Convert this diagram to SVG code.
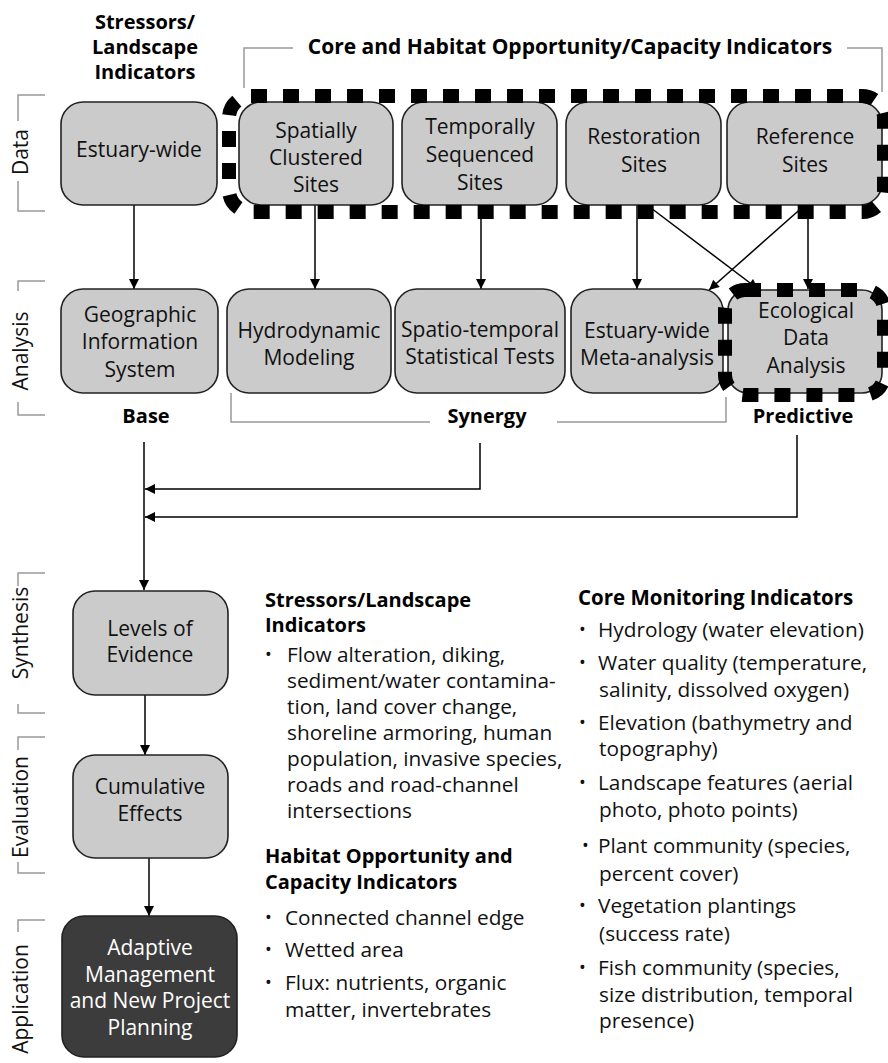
<svg xmlns="http://www.w3.org/2000/svg" width="888" height="1063" viewBox="0 0 888 1063">
<defs>
<marker id="ah" viewBox="0 0 10 10" refX="10" refY="5" markerWidth="11" markerHeight="10" markerUnits="userSpaceOnUse" orient="auto">
<path d="M0,0 L10,5 L0,10 z" fill="#000"/>
</marker>
<style>
.node{fill:#cbcbcb;stroke:#222;stroke-width:1.6}
.dark{fill:#3c3c3c;stroke:#222;stroke-width:1.6}
.t{font-family:"Open Sans","Liberation Sans",sans-serif;font-size:21px;fill:#111;text-anchor:middle}
.tw{font-family:"Open Sans","Liberation Sans",sans-serif;font-size:21px;fill:#ffffff;text-anchor:middle}
.b{font-family:"Open Sans","Liberation Sans",sans-serif;font-size:20px;font-weight:bold;fill:#000}
.bc{font-family:"Open Sans","Liberation Sans",sans-serif;font-size:20px;font-weight:bold;fill:#000;text-anchor:middle}
.l{font-family:"Open Sans","Liberation Sans",sans-serif;font-size:20.8px;fill:#111}
.bul{font-family:"Open Sans","Liberation Sans",sans-serif;font-size:18px;fill:#111}
.side{font-family:"Open Sans","Liberation Sans",sans-serif;font-size:21px;fill:#111;text-anchor:middle}
.gray{fill:none;stroke:#999;stroke-width:1.5}
.dash{fill:none;stroke:#000;stroke-width:14;stroke-dasharray:16 16}
.c{fill:none;stroke:#000;stroke-width:1.5}
</style>
</defs>

<g id="side-labels">
<path class="gray" d="M45,95 H18 V121 M18,181 V211 H45"/>
<text class="side" transform="translate(28,152) rotate(-90)">Data</text>
<path class="gray" d="M45,281 H18 V291 M18,402 V415 H45"/>
<text class="side" transform="translate(28,351) rotate(-90)">Analysis</text>
<path class="gray" d="M45,573 H18 V586 M18,704 V713 H45"/>
<text class="side" transform="translate(28,633) rotate(-90)">Synthesis</text>
<path class="gray" d="M45,737 H18 V750 M18,862 V873 H45"/>
<text class="side" transform="translate(28,807) rotate(-90)">Evaluation</text>
<path class="gray" d="M45,920 H18 V932"/>
<text class="side" transform="translate(28,999) rotate(-90)">Application</text>
</g>

<g id="headers">
<text class="bc" x="145" y="29">Stressors/</text>
<text class="bc" x="145" y="54">Landscape</text>
<text class="bc" x="145" y="79">Indicators</text>
<path class="gray" d="M293,48 H244 V88"/>
<path class="gray" d="M847,48 H882 V92"/>
<text class="bc" x="570" y="54" style="font-size:21px">Core and Habitat Opportunity/Capacity Indicators</text>
</g>

<g id="connectors">
<line class="c" x1="134" y1="205" x2="134" y2="289" marker-end="url(#ah)"/>
<line class="c" x1="315" y1="205" x2="315" y2="289" marker-end="url(#ah)"/>
<line class="c" x1="481" y1="205" x2="481" y2="289" marker-end="url(#ah)"/>
<line class="c" x1="637" y1="205" x2="637" y2="289" marker-end="url(#ah)"/>
<line class="c" x1="808" y1="205" x2="808" y2="289" marker-end="url(#ah)"/>
<line class="c" x1="647" y1="205" x2="758" y2="289" marker-end="url(#ah)"/>
<line class="c" x1="805" y1="205" x2="709" y2="290" marker-end="url(#ah)"/>
<line class="c" x1="144" y1="442" x2="144" y2="590" marker-end="url(#ah)"/>
<polyline class="c" points="480,443 480,489 145,489" marker-end="url(#ah)"/>
<polyline class="c" points="797,435 797,517 145,517" marker-end="url(#ah)"/>
<line class="c" x1="145" y1="695" x2="145" y2="755" marker-end="url(#ah)"/>
<line class="c" x1="149" y1="858" x2="149" y2="916" marker-end="url(#ah)"/>
</g>

<g id="n-estuary-wide">
<rect class="node" x="61" y="102" width="156" height="103" rx="22"/>
<text class="t" x="139" y="157">Estuary-wide</text>
</g>
<g id="n-spatially">
<rect class="node" x="239" y="102" width="154" height="103" rx="22"/>
<text class="t" x="316" y="138">Spatially</text>
<text class="t" x="316" y="165">Clustered</text>
<text class="t" x="316" y="192">Sites</text>
</g>
<g id="n-temporally">
<rect class="node" x="402" y="102" width="155" height="103" rx="22"/>
<text class="t" x="480" y="134">Temporally</text>
<text class="t" x="480" y="162">Sequenced</text>
<text class="t" x="480" y="190">Sites</text>
</g>
<g id="n-restoration">
<rect class="node" x="566" y="102" width="155" height="103" rx="22"/>
<text class="t" x="644" y="144">Restoration</text>
<text class="t" x="644" y="172">Sites</text>
</g>
<g id="n-reference">
<rect class="node" x="727" y="102" width="155" height="103" rx="22"/>
<text class="t" x="805" y="144">Reference</text>
<text class="t" x="805" y="172">Sites</text>
</g>
<g id="core-group">
<rect class="dash" x="229" y="96" width="655" height="116" rx="22"/>
</g>

<g id="n-gis">
<rect class="node" x="61" y="289" width="157" height="104" rx="22"/>
<text class="t" x="140" y="322">Geographic</text>
<text class="t" x="140" y="349">Information</text>
<text class="t" x="140" y="377">System</text>
</g>
<g id="n-hydro">
<rect class="node" x="227" y="289" width="164" height="104" rx="22"/>
<text class="t" x="309" y="338">Hydrodynamic</text>
<text class="t" x="309" y="365">Modeling</text>
</g>
<g id="n-spatiotemporal">
<rect class="node" x="395" y="289" width="170" height="104" rx="22"/>
<text class="t" x="480" y="337">Spatio-temporal</text>
<text class="t" x="480" y="364">Statistical Tests</text>
</g>
<g id="n-meta">
<rect class="node" x="571" y="289" width="152" height="104" rx="22"/>
<text class="t" x="647" y="338">Estuary-wide</text>
<text class="t" x="647" y="365">Meta-analysis</text>
</g>
<g id="n-ecological">
<rect class="node" x="728" y="290" width="154" height="103" rx="20"/>
<rect class="dash" x="725" y="290" width="159" height="105" rx="20"/>
<text class="t" x="806" y="318">Ecological</text>
<text class="t" x="806" y="345">Data</text>
<text class="t" x="806" y="373">Analysis</text>
</g>

<g id="tier-labels">
<text class="bc" x="146" y="423">Base</text>
<path class="gray" d="M231,393 V422 H430 M557,422 H726 V397"/>
<text class="bc" x="487" y="423">Synergy</text>
<text class="bc" x="803" y="423">Predictive</text>
</g>

<g id="n-levels">
<rect class="node" x="73" y="591" width="155" height="104" rx="22"/>
<text class="t" x="150" y="636">Levels of</text>
<text class="t" x="150" y="662">Evidence</text>
</g>
<g id="n-cumulative">
<rect class="node" x="73" y="755" width="155" height="103" rx="22"/>
<text class="t" x="150" y="794">Cumulative</text>
<text class="t" x="150" y="821">Effects</text>
</g>
<g id="n-adaptive">
<rect class="dark" x="62" y="916" width="175" height="141" rx="22"/>
<text class="tw" x="150" y="955">Adaptive</text>
<text class="tw" x="150" y="982">Management</text>
<text class="tw" x="150" y="1008">and New Project</text>
<text class="tw" x="150" y="1035">Planning</text>
</g>

<g id="stressors-text">
<text class="b" x="265" y="607">Stressors/Landscape</text>
<text class="b" x="265" y="632">Indicators</text>
<text class="bul" x="265" y="661">•</text>
<text class="l" x="287" y="662">Flow alteration, diking,</text>
<text class="l" x="287" y="688">sediment/water contamina-</text>
<text class="l" x="287" y="714">tion, land cover change,</text>
<text class="l" x="287" y="740">shoreline armoring, human</text>
<text class="l" x="287" y="766">population, invasive species,</text>
<text class="l" x="287" y="792">roads and road-channel</text>
<text class="l" x="287" y="818">intersections</text>
<text class="b" x="265" y="863">Habitat Opportunity and</text>
<text class="b" x="265" y="889">Capacity Indicators</text>
<text class="bul" x="265" y="924">•</text>
<text class="l" x="285" y="925">Connected channel edge</text>
<text class="bul" x="265" y="956">•</text>
<text class="l" x="285" y="957">Wetted area</text>
<text class="bul" x="265" y="989">•</text>
<text class="l" x="285" y="990">Flux: nutrients, organic</text>
<text class="l" x="285" y="1017">matter, invertebrates</text>
</g>

<g id="core-text">
<text class="b" x="578" y="605" style="font-size:20.5px">Core Monitoring Indicators</text>
<text class="bul" x="579" y="636">•</text>
<text class="l" x="598" y="637">Hydrology (water elevation)</text>
<text class="bul" x="579" y="669">•</text>
<text class="l" x="598" y="670">Water quality (temperature,</text>
<text class="l" x="599" y="697">salinity, dissolved oxygen)</text>
<text class="bul" x="579" y="729">•</text>
<text class="l" x="598" y="730">Elevation (bathymetry and</text>
<text class="l" x="599" y="756">topography)</text>
<text class="bul" x="579" y="789">•</text>
<text class="l" x="598" y="790">Landscape features (aerial</text>
<text class="l" x="599" y="817">photo, photo points)</text>
<text class="bul" x="582" y="852">•</text>
<text class="l" x="598" y="853">Plant community (species,</text>
<text class="l" x="599" y="881">percent cover)</text>
<text class="bul" x="579" y="912">•</text>
<text class="l" x="598" y="913">Vegetation plantings</text>
<text class="l" x="599" y="941">(success rate)</text>
<text class="bul" x="579" y="974">•</text>
<text class="l" x="598" y="975">Fish community (species,</text>
<text class="l" x="599" y="1002">size distribution, temporal</text>
<text class="l" x="599" y="1028">presence)</text>
</g>
</svg>
